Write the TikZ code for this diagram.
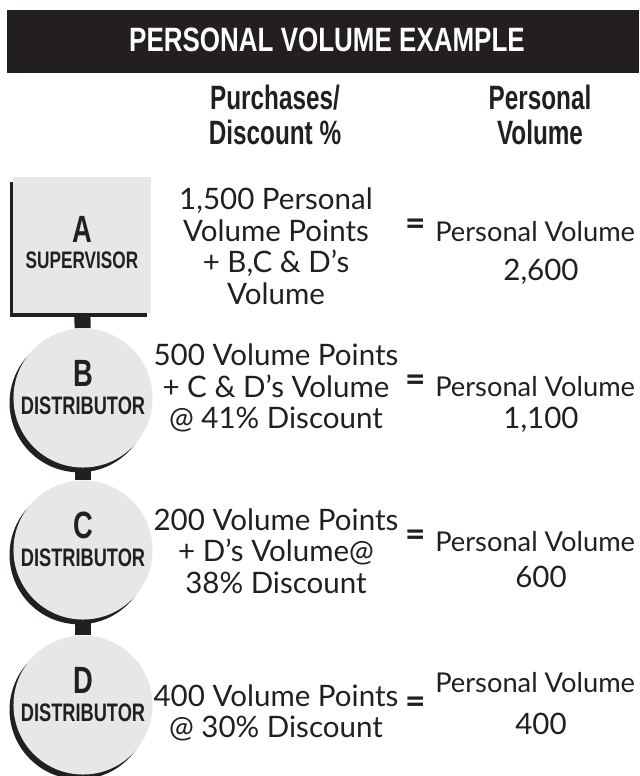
\documentclass[tikz,border=0pt]{standalone}
\usepackage{fontspec}
\setmainfont{Lato}
\newfontfamily\titlefont[FakeStretch=0.77]{Liberation Sans}
\newfontfamily\condfont[FakeStretch=0.72]{Liberation Sans}
\usetikzlibrary{shadows,backgrounds}
\definecolor{ink}{HTML}{231F20}
\definecolor{pale}{HTML}{E6E7E8}

\begin{document}
\begin{tikzpicture}[x=0.025cm,y=-0.025cm,
	shade/.style={drop shadow={shadow xshift=-2.8pt,shadow yshift=-3.4pt,fill=ink,opacity=1}},
	member/.style={circle,fill=pale,minimum size=3.475cm,inner sep=0pt,shade},
	boss/.style={rectangle,fill=pale,minimum width=3.425cm,minimum height=3.375cm,inner sep=0pt,shade},
	letter/.style={font=\condfont\bfseries\fontsize{27}{27}\selectfont,text=ink,anchor=base,inner sep=0pt},
	role/.style={font=\condfont\bfseries\fontsize{18}{18}\selectfont,text=ink,anchor=base,inner sep=0pt},
	head/.style={font=\condfont\bfseries\fontsize{24}{25}\selectfont,text=ink,align=center},
	buys/.style={font=\fontsize{21}{22.4}\selectfont,text=ink,align=center},
	eq/.style={font=\bfseries\fontsize{25}{25}\selectfont,text=ink},
	pv/.style={font=\fontsize{19.4}{19.4}\selectfont,text=ink,anchor=base west,inner sep=0pt},
	num/.style={font=\fontsize{21}{21}\selectfont,text=ink,anchor=base,inner sep=0pt},
	link/.style={draw=ink,line width=11.4pt}]
	\useasboundingbox (0,0) rectangle (639,776);
	% title bar
	\fill[ink] (7,10) rectangle (639,73);
	\node[font=\titlefont\bfseries\fontsize{24}{24}\selectfont,text=white,anchor=base,inner sep=0pt] (title) at (327,51) {PERSONAL VOLUME EXAMPLE};
	\node[head] (hbuy) at (275,115) {Purchases/\\Discount \%};
	\node[head] (hpv) at (540,115) {Personal\\Volume};
	% members
	\node[boss] (A) at (82,245) {};
	\node[member] (B) at (83,398) {};
	\node[member] (C) at (83,550) {};
	\node[member] (D) at (83,705) {};
	\node[letter] (At) at (82,242) {A};
	\node[role,font=\condfont\bfseries\fontsize{17}{17}\selectfont] (Ar) at (82,268) {SUPERVISOR};
	\foreach \m/\y in {B/398,C/550,D/705}
	{
		\node[letter] (\m t) at (83,\y-12) {\m};
		\node[role] (\m r) at (83,\y+16) {DISTRIBUTOR};
	}
	\begin{scope}[on background layer]
		\draw[link] (A) -- (B);
		\draw[link] (B) -- (C);
		\draw[link] (C) -- (D);
	\end{scope}
	% purchases
	\node[buys] (pa) at (276,246) {1,500 Personal\\Volume Points\\+ B,C \& D's\\Volume};
	\node[buys] (pb) at (276,388) {500 Volume Points\\+ C \& D's Volume\\@ 41\% Discount};
	\node[buys] (pc) at (276,551) {200 Volume Points\\+ D's Volume@\\38\% Discount};
	\node[buys] (pd) at (276,713) {400 Volume Points\\@ 30\% Discount};
	% equals
	\node[eq] (ea) at (416,227) {=};
	\node[eq] (eb) at (416,383) {=};
	\node[eq] (ec) at (416,538) {=};
	\node[eq] (ed) at (416,705) {=};
	% personal volume
	\node[pv] (va) at (435,241) {Personal Volume};
	\node[num] (na) at (541,280) {2,600};
	\node[pv] (vb) at (435,396) {Personal Volume};
	\node[num] (nb) at (541,428) {1,100};
	\node[pv] (vc) at (435,551) {Personal Volume};
	\node[num] (nc) at (541,587) {600};
	\node[pv] (vd) at (435,692) {Personal Volume};
	\node[num] (nd) at (541,734) {400};
\end{tikzpicture}
\end{document}
